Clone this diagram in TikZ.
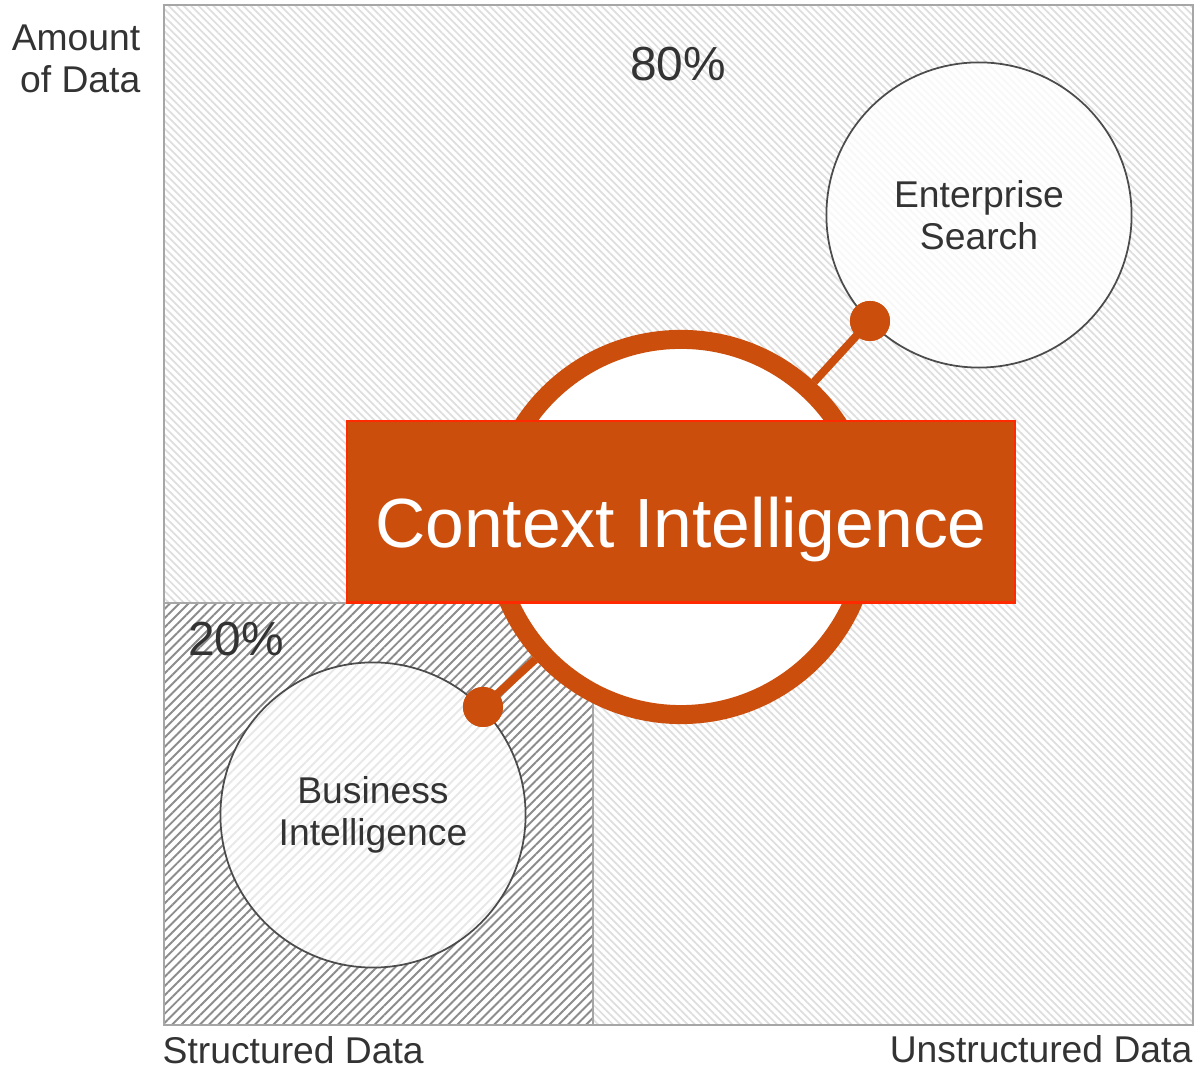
\documentclass[tikz,border=0pt]{standalone}
\usepackage{fontspec}
\setmainfont{Liberation Sans}
\usepackage{tikz}
\usetikzlibrary{patterns.meta, positioning}
\definecolor{rust}{HTML}{CC4E0C}
\definecolor{edge}{HTML}{FF2A00}
\definecolor{ink}{HTML}{333333}

\begin{document}
\begin{tikzpicture}[
    x=0.01cm, y=-0.01cm,
    field/.style={draw=black!35, line width=0.5pt},
    bubble/.style={circle, draw=black!70, line width=0.5pt, fill=white, fill opacity=0.8, text opacity=1, minimum size=3.05cm, align=center, font=\fontsize{10.6}{11.8}\selectfont, text=ink},
    ring/.style={circle, draw=rust, line width=0.19cm, fill=white, minimum size=3.75cm},
    dot/.style={circle, fill=rust, minimum size=0.4cm, inner sep=0pt},
    link/.style={draw=rust, line width=0.08cm},
    banner/.style={rectangle, draw=edge, line width=0.6pt, fill=rust, minimum width=6.68cm, minimum height=1.81cm, text height=20pt, text depth=0pt, text=white, font=\fontsize{19.8}{24}\selectfont},
    label/.style={font=\fontsize{10.6}{12}\selectfont, text=ink, inner sep=0pt},
    share/.style={font=\fontsize{13.6}{16}\selectfont, text=ink, inner sep=0pt}
]
    \useasboundingbox (0,0) rectangle (1196,1068);

    % the two data areas
    \path[pattern={Lines[angle=-45, distance=1.5pt, line width=0.5pt]}, pattern color=black!13] (164,5) rectangle (1193,1025);
    \draw[field] (164,5) rectangle (1193,1025);
    \path[fill=white] (164,603) rectangle (593,1025);
    \path[pattern={Lines[angle=45, distance=1.85pt, line width=0.55pt]}, pattern color=black!45] (164,603) rectangle (593,1025);
    \draw[field] (164,603) rectangle (593,1025);

    \node[share] (big) at (678,64) {80\%};
    \node[share] (small) at (236,639) {20\%};

    \node[bubble] (search) at (979,215) {Enterprise\\Search};
    \node[bubble] (bi) at (373,815) {Business\\Intelligence};

    \node[ring] (ci) at (681,527) {};
    \node[dot] (searchdot) at (870,321) {};
    \node[dot] (bidot) at (483,707) {};
    \draw[link] (searchdot.center) -- (ci);
    \draw[link] (bidot.center) -- (ci);
    \node[dot] at (searchdot) {};
    \node[dot] at (bidot) {};

    \node[banner] (ctx) at (681,512) {Context Intelligence};

    % axis texts
    \node[label, align=right, anchor=north east] (amount) at (141,24) {Amount\\of Data};
    \node[label, anchor=west] (structured) at (162,1050) {Structured Data};
    \node[label, anchor=east] (unstructured) at (1193,1049) {Unstructured Data};
\end{tikzpicture}
\end{document}
